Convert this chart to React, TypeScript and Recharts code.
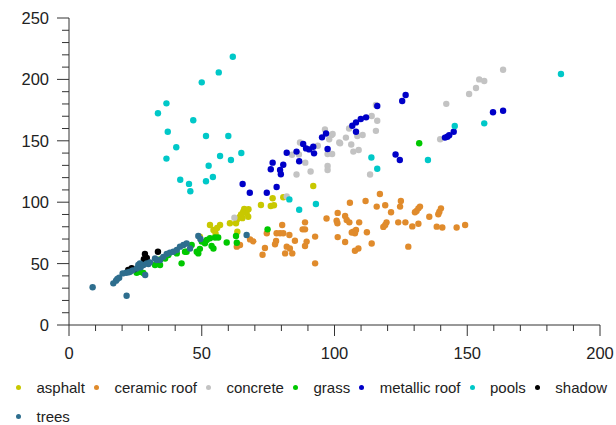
import React from 'react';
import { ScatterChart, Scatter, XAxis, YAxis, Legend } from 'recharts';

const categories = ['asphalt', 'ceramic roof', 'concrete', 'grass', 'metallic roof', 'pools', 'shadow', 'trees'];
const colors = ['#c8c800', '#e08b2c', '#c3c3c3', '#00c800', '#0000c8', '#00c8c8', '#000000', '#2e6e8e'];

const xTicks = [0, 10, 20, 30, 40, 50, 60, 70, 80, 90, 100, 110, 120, 130, 140, 150, 160, 170, 180, 190, 200];
const yTicks = [0, 10, 20, 30, 40, 50, 60, 70, 80, 90, 100, 110, 120, 130, 140, 150, 160, 170, 180, 190, 200, 210, 220, 230, 240, 250];

const asphalt = [
  [49.3, 71.9], [53.1, 81.4], [54.4, 77.4], [55.2, 74.5], [56.9, 81.4], [55.8, 79], [60.6, 82.8], [62.9, 82.8],
  [63.4, 76], [63.2, 85.5], [64.4, 88.2], [65.6, 92.3], [66.9, 91], [67.5, 88.2], [66, 94.5], [67.6, 94.3],
  [65.3, 87], [64.8, 90], [72.3, 97.7], [76, 96.9], [77.2, 97.5], [76.7, 103.2], [80.7, 104], [92, 113.2],
];

const ceramicRoof = [
  [80.3, 81.4], [88.9, 83.6], [74.5, 74.7], [78.2, 74.7], [79.5, 74.7], [80.7, 74.7], [83, 73.3], [88, 77.9],
  [88.9, 77.9], [68.2, 69.7], [69.4, 68.1], [64.4, 65.1], [63.2, 63.8], [78, 68.4], [77.6, 65.7], [85.1, 68.6],
  [89.5, 67.9], [88.9, 64.3], [92.7, 72], [73.8, 62.7], [82, 63.8], [83.2, 62.3], [72.9, 57.2], [81.4, 58.3],
  [84.1, 58.3], [92.7, 50.2], [97, 86.7], [101.2, 91.3], [100.8, 84.9], [101.1, 82.8], [104, 88.8], [104.6, 85.5],
  [105.6, 83.6], [105.8, 99.6], [109.3, 83.6], [107.1, 76], [107.7, 74.7], [106.5, 75.3], [108.1, 77.4], [101.2, 71.6],
  [104, 67.6], [107.7, 60.5], [109, 62.3], [111.7, 101], [117.1, 106.7], [115.9, 96.4], [119.1, 97.5], [121.3, 91.8],
  [112.2, 75.5], [114, 66.4], [119.6, 83.6], [118.4, 79.9], [119.1, 81.4], [125, 101], [124.7, 96.4], [124, 83.6],
  [126.7, 83.6], [127.8, 63.8], [129.3, 80.3], [131.6, 82.5], [130.3, 91.8], [130.9, 92.8], [131.6, 95], [132.2, 96.4],
  [135.7, 88.1], [138.5, 80.1], [140.6, 79.4], [139.1, 90.2], [139.5, 92.3], [140.1, 95], [146, 79.4], [149.2, 81.4],
];

const concrete = [
  [84, 138.6], [85.7, 122.6], [89, 132.2], [91, 125], [87, 148.6], [86.6, 138.9], [93.7, 146], [96.4, 159.2],
  [98.9, 154.7], [98, 151.2], [97.4, 139.2], [99.1, 139.2], [97.4, 129.5], [97.4, 126.2], [101.8, 148.6], [99.3, 155.5],
  [102.1, 148], [104.3, 152.6], [105.5, 160], [106.3, 147], [107.1, 141.2], [109.1, 142.5], [108.6, 153.9], [110.6, 154.7],
  [114, 170.2], [115.6, 179.2], [116.1, 166.3], [115.6, 158.1], [113.4, 122.6], [142.1, 180.1], [139.8, 151.3], [150.7, 188.1],
  [153.3, 193], [154.5, 200], [156.4, 198.7], [163.5, 207.9], [82, 104.6], [62.3, 87.4],
];

const grass = [
  [25.5, 42.6], [26.7, 43.4], [28, 42.3], [32.4, 48.9], [34.3, 48.9], [34.3, 53.4], [36.2, 54.2], [37.4, 57],
  [40.6, 58.3], [42.4, 50.2], [43.7, 59.7], [44.3, 59.7], [46.2, 65.1], [48.1, 59.7], [48.7, 58.3], [49.3, 62],
  [50, 67.9], [51.2, 66.6], [51.9, 69.2], [53.1, 70.6], [53.7, 64.3], [54.4, 62.3], [55, 71.3], [56.2, 71.3],
  [59.4, 67.2], [62.9, 72.5], [63.2, 67], [74.8, 77.9], [131.9, 148],
];

const metallicRoof = [
  [65.4, 114.8], [68.1, 107.7], [74.5, 107.7], [78.2, 112.4], [76.7, 132.2], [76, 126.8], [79.5, 126.2], [79.8, 122.7],
  [80.7, 130.5], [82, 140.3], [85.7, 141.2], [86.7, 133.3], [88.2, 147.4], [89.3, 143.8], [90.5, 143], [92, 145.2],
  [92.3, 139.8], [95.3, 152.8], [96.8, 156], [97.4, 143.3], [116.1, 178.3], [111.9, 169.1], [109.9, 167.8], [108.1, 165],
  [106.7, 162.3], [108.1, 157.4], [126.8, 187.3], [125.5, 182.4], [123, 138.9], [124.6, 134.4], [144.9, 157.4], [143.2, 154.5],
  [141.6, 152.6], [142.5, 153.3], [159.7, 173.2], [163.5, 174.5],
];

const pools = [
  [61.7, 218.5], [56.4, 205.7], [50, 197.6], [36.7, 180.5], [33.5, 172.4], [46.8, 166.7], [37.2, 157.4], [51.6, 153.9],
  [60, 153.9], [40.4, 144.7], [64.9, 140.1], [36.7, 135.5], [56.9, 137.6], [61, 134.4], [52.6, 129.7], [54.2, 120.5],
  [41.9, 118.3], [51.6, 117], [45.2, 114.9], [45.7, 108.9], [83, 102.3], [86.7, 93.8], [93, 98.5], [113.9, 136.4],
  [116.1, 127.3], [135.2, 134.4], [145.3, 162.1], [156.4, 164.2], [185.3, 204.4],
];

const shadow = [
  [22.3, 44.8], [23.6, 46.2], [24.6, 45.3], [28.6, 57.8], [28.2, 53.5], [29.3, 54.5], [33.5, 59.7],
];

const trees = [
  [8.9, 30.7], [16.7, 33.9], [17.7, 36.1], [18.2, 37.5], [18.9, 38.5], [20.2, 42], [21.5, 42.6], [21.7, 23.8],
  [22.5, 43], [23, 43.4], [24, 44.5], [25.5, 46], [26.1, 48.9], [26.7, 50.2], [27, 47], [28, 48.9],
  [28.7, 40.7], [29.3, 50.2], [29.9, 49.7], [30.5, 51], [32.4, 54.2], [33, 52.9], [34.3, 52.9], [35.5, 55.5],
  [36.8, 57.8], [38, 58.9], [39.3, 59.7], [40.6, 61.1], [41.8, 63.8], [43.1, 65.1], [44.3, 66.4], [45.6, 62.3],
  [48.7, 72.5], [49.5, 70], [66.9, 73.3],
];

const seriesData = [asphalt, ceramicRoof, concrete, grass, metallicRoof, pools, shadow, trees];

const font = '"Liberation Sans", Arial, sans-serif';
const axisColor = '#333';

const toPoints = (arr: number[][]) => arr.map(([x, y]) => ({ x, y }));

const XTick = ({ x, y, payload }: any) => {
  const major = payload.value % 50 === 0;
  return (
    <g>
      <line x1={x} y1={y} x2={x} y2={y + (major ? 11 : 6)} stroke={axisColor} />
      {major && (
        <text x={x} y={y + 33.5} textAnchor="middle" fontSize={16.5} fontFamily={font} fill="#222">
          {payload.value}
        </text>
      )}
    </g>
  );
};

const YTick = ({ x, y, payload }: any) => {
  const major = payload.value % 50 === 0;
  return (
    <g>
      <line x1={x - (major ? 12 : 7)} y1={y} x2={x} y2={y} stroke={axisColor} />
      {major && (
        <text x={x - 20} y={y + 5.9} textAnchor="end" fontSize={16.5} fontFamily={font} fill="#222">
          {payload.value}
        </text>
      )}
    </g>
  );
};

const LegendContent = ({ payload }: any) => (
  <div
    style={{
      display: 'flex',
      flexWrap: 'wrap',
      width: 624,
      paddingLeft: 16,
      height: 52,
      fontFamily: font,
      fontSize: 15,
      color: '#222',
    }}
  >
    {(payload || []).map((e: any) => (
      <div key={e.value} style={{ display: 'flex', alignItems: 'center', height: 29, marginRight: 9, lineHeight: '29px' }}>
        <span style={{ width: 5, height: 5, borderRadius: '50%', background: e.color, marginRight: 15.5 }} />
        <span>{e.value}</span>
      </div>
    ))}
  </div>
);

export default function App() {
  return (
    <div style={{ position: 'absolute', left: 0, top: 0, background: '#fff' }}>
      <ScatterChart width={616} height={425} margin={{ top: 18, right: 16, bottom: 0, left: 0 }}>
        <XAxis xAxisId="pad" type="number" domain={[0, 1]} height={13} tick={false} tickLine={false} axisLine={false} />
        <XAxis
          xAxisId="main"
          type="number"
          dataKey="x"
          domain={[0, 200]}
          ticks={xTicks}
          interval={0}
          height={35}
          tickSize={0}
          tickMargin={0}
          tickLine={false}
          tick={<XTick />}
          axisLine={{ stroke: axisColor }}
        />
        <YAxis yAxisId="pad" type="number" domain={[0, 1]} width={12} tick={false} tickLine={false} axisLine={false} />
        <YAxis
          yAxisId="main"
          type="number"
          dataKey="y"
          domain={[0, 250]}
          ticks={yTicks}
          interval={0}
          width={57}
          tickSize={0}
          tickMargin={0}
          tickLine={false}
          tick={<YTick />}
          axisLine={{ stroke: axisColor }}
        />
        <Legend content={<LegendContent />} wrapperStyle={{ left: 0, bottom: 0 }} />
        {categories.map((name, i) => (
          <Scatter
            key={name}
            name={name}
            xAxisId="main"
            yAxisId="main"
            data={toPoints(seriesData[i])}
            fill={colors[i]}
            isAnimationActive={false}
            shape={(p: any) => <circle cx={p.cx} cy={p.cy} r={3.2} fill={colors[i]} />}
          />
        ))}
      </ScatterChart>
    </div>
  );
}
